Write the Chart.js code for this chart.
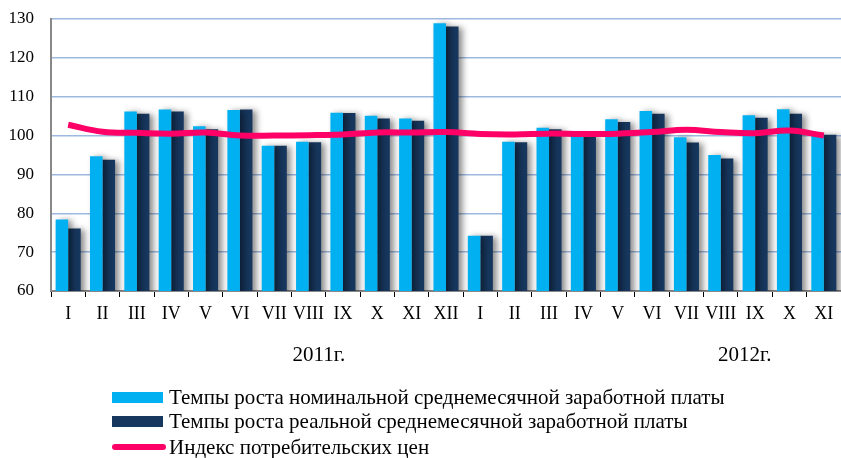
<!DOCTYPE html>
<html>
<head>
<meta charset="utf-8">
<script src="https://cdn.jsdelivr.net/npm/chart.js@4.4.1/dist/chart.umd.min.js"></script>
<style>
  html, body { margin: 0; padding: 0; background: #fff; }
  #wrap { width: 841px; height: 458px; }
</style>
</head>
<body>
<div id="wrap"><canvas id="myChart"></canvas></div>
<script>
var months = ["I", "II", "III", "IV", "V", "VI", "VII", "VIII", "IX", "X", "XI", "XII",
              "I", "II", "III", "IV", "V", "VI", "VII", "VIII", "IX", "X", "XI"];
var nominal = [78.4, 94.7, 106.2, 106.7, 102.4, 106.6, 97.4, 98.4, 105.9, 105.1, 104.4, 128.9,
               74.2, 98.4, 102.0, 100.4, 104.2, 106.3, 99.6, 95.0, 105.2, 106.8, 100.4];
var real = [76.1, 93.8, 105.6, 106.2, 101.6, 106.7, 97.4, 98.3, 105.8, 104.4, 103.8, 128.1,
            74.2, 98.3, 101.6, 100.1, 103.5, 105.6, 98.2, 94.1, 104.6, 105.6, 100.2];
var cpi = [102.8, 101.0, 100.7, 100.5, 100.8, 100.0, 100.0, 100.1, 100.3, 100.8, 100.8, 100.9,
           100.4, 100.3, 100.5, 100.4, 100.5, 100.9, 101.5, 100.9, 100.6, 101.3, 100.0];
var years = ["2011г.", "2012г."];
var yearPos = [7.3, 19.7];
var seriesNames = ["Темпы роста номинальной среднемесячной заработной платы",
                   "Темпы роста реальной среднемесячной заработной платы",
                   "Индекс потребительских цен"];

var font = "'Liberation Serif', 'Times New Roman', serif";

// shadow to the right of the bars
var barShadow = {
  id: 'barShadow',
  beforeDatasetDraw: function (chart, args) {
    if (args.meta.type !== 'bar') return;
    var c = chart.ctx;
    c.save();
    c.shadowColor = 'rgba(0,0,0,0.45)';
    c.shadowBlur = 6;
    c.shadowOffsetX = 4;
    c.shadowOffsetY = 1;
  },
  afterDatasetDraw: function (chart, args) {
    if (args.meta.type !== 'bar') return;
    chart.ctx.restore();
  }
};

// year captions + vertical legend
var extras = {
  id: 'extras',
  afterDraw: function (chart) {
    var c = chart.ctx;
    var x = chart.scales.x;
    c.save();
    c.fillStyle = '#000';
    c.font = '21px ' + font;
    c.textAlign = 'center';
    c.textBaseline = 'middle';
    years.forEach(function (y, i) {
      c.fillText(y, x.getPixelForValue(yearPos[i]), 355);
    });

    var ds = chart.data.datasets;
    var rows = [397, 421, 447];
    c.textAlign = 'left';
    [1, 2, 0].forEach(function (di, r) {
      var d = ds[di];
      if (d.type === 'line') {
        c.strokeStyle = d.borderColor;
        c.lineWidth = 6;
        c.lineCap = 'round';
        c.beginPath();
        c.moveTo(115, rows[r]);
        c.lineTo(163, rows[r]);
        c.stroke();
      } else {
        c.fillStyle = d.backgroundColor;
        c.fillRect(112, rows[r] - 5, 51, 11);
      }
      c.fillStyle = '#000';
      c.fillText(d.label, 169, rows[r] + 1);
    });
    c.restore();
  }
};

new Chart(document.getElementById('myChart'), {
  data: {
    labels: months,
    datasets: [{
      type: 'line',
      label: seriesNames[2],
      data: cpi,
      borderColor: '#FF0066',
      borderWidth: 6,
      tension: 0.4,
      pointRadius: 0,
      order: 0
    }, {
      type: 'bar',
      label: seriesNames[0],
      data: nominal,
      backgroundColor: '#00B0F0',
      categoryPercentage: 0.73,
      barPercentage: 1.0,
      order: 1
    }, {
      type: 'bar',
      label: seriesNames[1],
      data: real,
      backgroundColor: '#17375E',
      categoryPercentage: 0.73,
      barPercentage: 1.0,
      order: 2
    }]
  },
  options: {
    responsive: true,
    maintainAspectRatio: false,
    animation: false,
    layout: { autoPadding: false, padding: { top: 19, right: 0, bottom: 139, left: 0 } },
    plugins: {
      legend: { display: false },
      tooltip: { enabled: false }
    },
    scales: {
      x: {
        offset: true,
        afterFit: function (s) { s.height = 28; },
        grid: {
          offset: true,
          drawOnChartArea: false,
          drawTicks: true,
          tickLength: 6,
          color: '#000'
        },
        border: { color: '#888', width: 2 },
        ticks: {
          color: '#000',
          font: { family: font, size: 18 },
          maxRotation: 0,
          autoSkip: false,
          padding: 6
        }
      },
      y: {
        min: 60,
        max: 130,
        afterFit: function (s) {
          s.width = 51;
          s.paddingTop = 0;
          s.paddingBottom = 0;
        },
        ticks: {
          stepSize: 10,
          color: '#000',
          font: { family: font, size: 17 },
          padding: 17
        },
        grid: {
          color: '#9DB9E0',
          lineWidth: 1.5,
          drawTicks: false
        },
        border: { color: '#888', width: 2 }
      }
    }
  },
  plugins: [barShadow, extras]
});
</script>
</body>
</html>
